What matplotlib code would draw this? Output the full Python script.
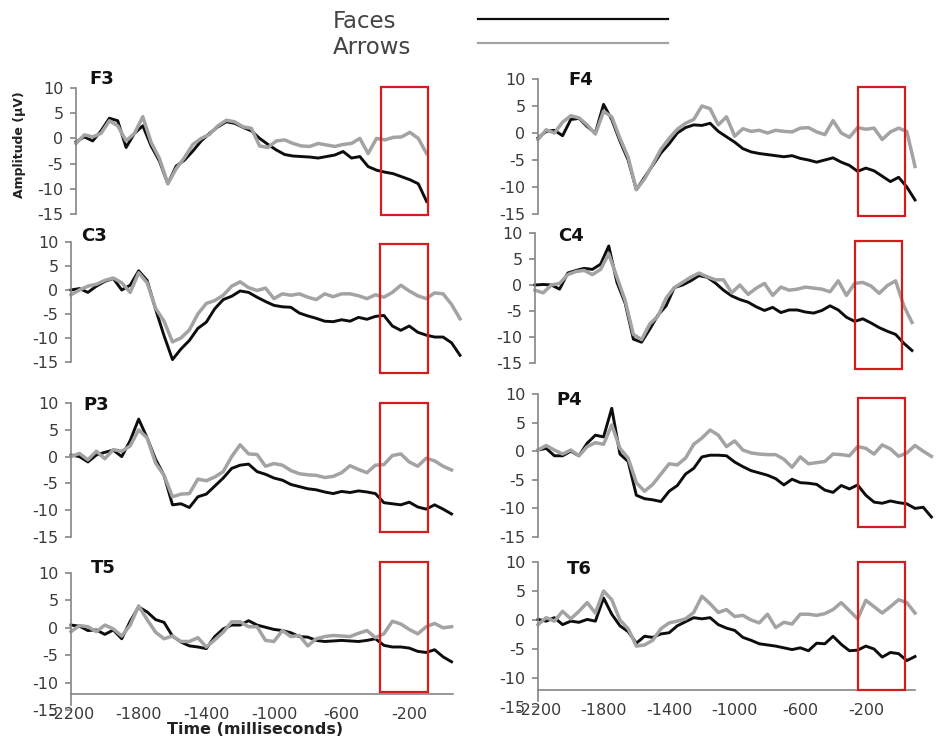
import numpy as np
import matplotlib.pyplot as plt
from matplotlib.patches import Rectangle
from matplotlib.lines import Line2D

plt.rcParams['axes.unicode_minus'] = False
plt.rcParams['font.family'] = ['DejaVu Sans']

# ─── Data: grand-average ERP (µV), sampled every 50 ms from -2200 ms ──────────
time_ms = np.arange(-2200, 201, 50)

f3_faces = [-0.7, 0.3, -0.5, 1.5, 4.0, 3.5, -1.8, 1.0, 2.5, -1.5, -4.5, -9.0, -5.5, -4.3, -2.5,
            -0.5, 1.0, 2.3, 3.3, 3.0, 2.2, 1.5, 0.0, -1.2, -2.3, -3.2, -3.5, -3.6, -3.7, -3.9,
            -3.6, -3.3, -2.6, -3.9, -3.6, -5.6, -6.3, -6.7, -7.0, -7.6, -8.2, -9.0, -12.5]
f3_arrows = [-1.0, 0.7, 0.3, 1.0, 3.5, 2.5, -0.5, 1.0, 4.3, -0.8, -4.0, -9.0, -6.0, -3.8, -1.2,
             0.0, 0.8, 2.5, 3.6, 3.3, 2.3, 2.0, -1.5, -1.8, -0.5, -0.3, -1.0, -1.5, -1.6, -1.0,
             -1.3, -1.6, -1.2, -1.0, 0.0, -3.0, 0.0, -0.3, 0.2, 0.3, 1.2, 0.0, -3.0]

f4_faces = [-0.9, 0.3, 0.5, -0.5, 2.5, 2.7, 1.2, 0.0, 5.3, 2.5, -1.5, -5.0, -10.5, -8.2, -6.0,
            -3.7, -2.0, 0.0, 1.0, 1.5, 1.4, 1.8, 0.3, -0.7, -1.7, -2.9, -3.5, -3.8, -4.0, -4.2,
            -4.4, -4.2, -4.7, -5.0, -5.4, -5.0, -4.6, -5.4, -6.0, -7.1, -6.5, -7.0, -8.0, -9.0,
            -8.2, -10.0, -12.4]
f4_arrows = [-1.2, 0.6, 0.0, 2.0, 3.2, 2.8, 1.5, -0.2, 4.0, 3.0, -1.0, -4.5, -10.5, -8.5, -5.8,
             -3.0, -1.0, 0.7, 1.8, 2.5, 5.0, 4.5, 1.5, 3.0, -0.6, 0.8, 0.3, 0.5, 0.0, 0.5,
             0.3, 0.2, 0.9, 1.0, 0.2, -0.3, 2.3, 0.0, -0.8, 1.0, 0.7, 0.9, -1.2, 0.2, 0.9, 0.3, -6.2]

c3_faces = [0.0, 0.3, -0.5, 0.8, 1.8, 2.4, 0.0, 1.0, 4.0, 2.0, -4.0, -9.5, -14.5, -12.3, -10.5,
            -8.0, -6.7, -3.9, -2.0, -1.3, -0.2, -0.5, -1.5, -2.4, -3.2, -3.5, -3.6, -4.8, -5.4,
            -5.9, -6.5, -6.6, -6.2, -6.5, -5.7, -6.1, -5.5, -5.3, -7.5, -8.4, -7.5, -8.8, -9.4,
            -9.8, -9.8, -11.0, -13.6]
c3_arrows = [-1.0, 0.0, 0.8, 1.2, 2.0, 2.5, 1.5, -0.5, 3.6, 1.5, -3.8, -6.5, -10.8, -10.0, -8.3,
             -5.0, -2.8, -2.2, -1.1, 0.8, 1.7, 0.5, -0.1, 0.4, -1.8, -0.8, -1.1, -0.8, -1.5, -2.0,
             -0.8, -1.4, -0.8, -0.8, -1.2, -1.8, -1.0, -1.5, -0.5, 1.0, -0.2, -1.2, -1.8, -0.6,
             -0.8, -3.0, -6.0]

c4_faces = [0.0, 0.1, 0.0, -0.8, 2.3, 2.8, 3.2, 3.0, 4.0, 7.5, 0.5, -3.5, -10.4, -11.0, -8.5,
            -5.8, -4.0, -0.5, 0.0, 0.8, 1.8, 1.5, 0.4, -1.0, -2.1, -2.8, -3.3, -4.2, -4.9, -4.3,
            -5.3, -4.8, -4.8, -5.2, -5.4, -4.9, -4.0, -4.8, -6.2, -7.0, -6.5, -7.3, -8.2, -8.9,
            -9.5, -11.2, -12.6]
c4_arrows = [-1.0, -1.5, 0.0, 0.3, 2.0, 2.6, 2.8, 2.0, 3.0, 6.0, 1.5, -3.0, -9.5, -10.5, -7.5,
             -6.0, -2.5, -0.5, 0.5, 1.5, 2.3, 1.6, 1.0, 1.0, -1.5, 0.0, -1.8, -0.6, 0.3, -2.0,
             -0.4, -1.0, -0.8, -0.4, -0.6, -0.8, -1.3, 0.8, -2.0, 0.3, 0.5, -0.2, -1.6, -0.1,
             0.8, -4.0, -7.2]

p3_faces = [0.3, 0.0, -1.0, 0.3, 0.8, 1.2, 0.0, 3.0, 7.0, 3.5, -0.5, -3.5, -9.0, -8.8, -9.5,
            -7.5, -7.0, -5.5, -4.0, -2.2, -1.6, -1.4, -2.8, -3.3, -4.0, -4.4, -5.2, -5.6, -6.0,
            -6.2, -6.6, -6.9, -6.5, -6.7, -6.4, -6.6, -6.9, -8.6, -8.8, -9.0, -8.5, -9.4, -9.8,
            -9.0, -9.8, -10.7]
p3_arrows = [0.0, 0.6, -0.6, 1.0, -0.4, 1.3, 1.0, 2.0, 5.0, 3.5, -1.2, -3.5, -7.5, -7.0, -6.9,
             -4.2, -4.5, -3.8, -2.8, 0.0, 2.2, 0.5, 0.4, -1.8, -1.3, -1.6, -2.6, -3.2, -3.4,
             -3.5, -3.9, -3.7, -3.0, -1.7, -2.4, -3.0, -1.6, -1.5, 0.2, 0.5, -1.0, -1.8, -0.3,
             -0.8, -1.8, -2.5]

p4_faces = [0.2, 0.5, -0.8, -0.8, 0.0, -0.8, 1.4, 2.8, 2.5, 7.5, -0.5, -1.8, -7.7, -8.3, -8.5,
            -8.8, -7.0, -6.0, -4.0, -3.0, -1.0, -0.7, -0.7, -0.8, -1.9, -2.7, -3.4, -3.8, -4.2,
            -4.8, -5.9, -4.9, -5.5, -5.6, -5.8, -6.8, -7.2, -6.0, -6.6, -5.9, -7.7, -8.9, -9.1,
            -8.7, -9.0, -9.2, -10.0, -9.8, -11.5]
p4_arrows = [0.2, 1.0, 0.2, -0.5, 0.2, -0.8, 0.8, 1.5, 1.2, 4.6, 0.5, -1.2, -5.5, -7.0, -5.8,
             -4.0, -2.2, -2.4, -1.2, 1.2, 2.3, 3.7, 2.8, 0.8, 1.8, 0.2, -0.3, -0.5, -0.6, -0.6,
             -1.4, -2.8, -1.0, -2.2, -2.0, -1.8, -0.5, -0.6, -0.8, 0.8, 0.5, -0.5, 1.1, 0.4,
             -0.9, -0.3, 1.0, 0.0, -0.9]

t5_faces = [0.5, 0.3, -0.5, -0.4, -1.2, -0.4, -2.0, 1.2, 3.8, 2.9, 1.5, 1.0, -1.5, -2.6, -3.3,
            -3.5, -3.8, -1.6, -0.2, 0.5, 0.5, 1.3, 0.5, 0.1, -0.3, -0.5, -0.9, -1.6, -1.7, -2.3,
            -2.5, -2.4, -2.3, -2.4, -2.5, -2.3, -2.0, -3.2, -3.5, -3.5, -3.7, -4.3, -4.5, -4.0,
            -5.3, -6.2]
t5_arrows = [-0.7, 0.4, 0.2, -0.7, 0.5, -0.2, -1.5, 0.5, 4.0, 1.5, -0.8, -2.0, -1.5, -2.5, -2.5,
             -1.8, -3.5, -2.2, -0.8, 1.1, 1.1, 0.2, 0.2, -2.3, -2.5, -0.5, -1.6, -1.4, -3.3, -2.0,
             -1.6, -1.4, -1.5, -1.6, -1.0, -0.5, -1.8, -1.1, 1.2, 0.7, -0.3, -1.1, 0.2, 0.8,
             0.0, 0.2]

t6_faces = [0.1, -0.2, 0.4, -0.8, -0.2, -0.4, 0.1, -0.2, 3.8, 1.0, -1.0, -2.0, -4.0, -2.8, -3.0,
            -2.4, -2.2, -1.0, -0.3, 0.4, 0.2, 0.4, -0.8, -1.4, -1.8, -3.0, -3.5, -4.1, -4.3,
            -4.5, -4.8, -5.1, -4.8, -5.3, -4.0, -4.1, -2.8, -4.2, -5.3, -5.2, -4.5, -5.0, -6.4,
            -5.6, -5.8, -7.0, -6.3]
t6_arrows = [-0.8, 0.4, -0.2, 1.5, 0.2, 1.5, 3.0, 1.2, 5.0, 3.5, 0.0, -1.5, -4.5, -4.3, -3.5,
             -1.5, -0.5, -0.2, 0.2, 1.3, 4.1, 2.8, 1.3, 1.8, 0.6, 0.8, 0.0, -0.5, 1.0, -1.3,
             -0.4, -0.7, 1.0, 1.0, 0.8, 1.1, 1.8, 3.0, 1.6, 0.2, 3.4, 2.3, 1.2, 2.3, 3.5, 3.0, 1.2]

xtick_vals = [-2200, -1800, -1400, -1000, -600, -200]
ytick_vals = [-15, -10, -5, 0, 5, 10]

series = {
    'F3': (f3_faces, f3_arrows), 'F4': (f4_faces, f4_arrows),
    'C3': (c3_faces, c3_arrows), 'C4': (c4_faces, c4_arrows),
    'P3': (p3_faces, p3_arrows), 'P4': (p4_faces, p4_arrows),
    'T5': (t5_faces, t5_arrows), 'T6': (t6_faces, t6_arrows),
}

# ─── Layout (pixels in a 936x738 canvas) ──────────────────────────────────────
W, H = 936, 738
# left, right, y of +10, y of -15, title x, title y, box bottom/top (µV)
layout = {
    'F3': (76, 460, 88, 214, 102, 79, -15.2, 10.2),
    'C3': (71, 460, 242, 362, 94, 236, -17.3, 9.6),
    'P3': (71, 460, 403, 537, 96, 405, -14.1, 10.0),
    'T5': (71, 460, 573, 710, 103, 568, -11.7, 12.0),
    'F4': (538, 915, 79, 214, 581, 80, -15.4, 8.5),
    'C4': (535, 912, 233, 363, 571, 236, -16.2, 8.5),
    'P4': (538, 915, 394, 537, 569, 400, -13.2, 9.3),
    'T6': (538, 915, 562, 707, 579, 569, -12.0, 10.0),
}
box_x = {'left': (-373, -89), 'right': (-248, 39)}
XLIM = (-2200, 100)

FACE_COL, ARROW_COL = '#0d0d0d', '#a3a3a3'
AXIS_COL, TXT_COL = '#858585', '#3a3a3a'

fig = plt.figure(figsize=(W / 100, H / 100), dpi=100)

for name, (l, r, t, b, tx, ty, by0, by1) in layout.items():
    ax = fig.add_axes([l / W, 1 - b / H, (r - l) / W, (b - t) / H])
    ax.set_xlim(*XLIM)
    ax.set_ylim(-15, 10)
    ax.patch.set_alpha(0)
    faces, arrows = series[name]
    ax.plot(time_ms[:len(faces)], faces, color=FACE_COL, lw=2.1, clip_on=False,
            solid_joinstyle='round')
    ax.plot(time_ms[:len(arrows)], arrows, color=ARROW_COL, lw=2.5, clip_on=False,
            solid_joinstyle='round')

    for s in ['top', 'right']:
        ax.spines[s].set_visible(False)
    ax.spines['left'].set_color(AXIS_COL)
    ax.spines['left'].set_linewidth(1.2)
    ax.set_yticks(ytick_vals)
    ax.tick_params(axis='y', colors=AXIS_COL, labelcolor=TXT_COL, labelsize=11.5,
                   length=4, width=1.2, pad=5)

    bottom_row = name in ('T5', 'T6')
    if bottom_row:
        ax.spines['bottom'].set_position(('data', -12))
        ax.spines['bottom'].set_color(AXIS_COL)
        ax.spines['bottom'].set_linewidth(1.2)
        ax.spines['bottom'].set_bounds(-2200, 60 if name == 'T5' else 100)
        ax.spines['left'].set_bounds(-14.0, 10)
        ax.set_xticks(xtick_vals)
        ax.set_xticklabels([str(v) for v in xtick_vals])
        ax.tick_params(axis='x', length=0, pad=10, labelsize=11.5, labelcolor=TXT_COL)
    else:
        ax.spines['bottom'].set_visible(False)
        ax.set_xticks([])

    x0, x1 = box_x['left'] if l < 300 else box_x['right']
    ax.add_patch(Rectangle((x0, by0), x1 - x0, by1 - by0, fill=False,
                           edgecolor='#d41c1c', lw=1.6, clip_on=False, zorder=5))

    fig.text(tx / W, 1 - ty / H, name, ha='center', va='center',
             fontsize=13, fontweight='bold', color='#111111')

# axis titles
fig.text(20 / W, 1 - 145 / H, 'Amplitude (µV)', rotation=90, ha='center', va='center',
         fontsize=9, fontweight='bold', color='#222222')
fig.text(255 / W, 1 - 729 / H, 'Time (milliseconds)', ha='center', va='center',
         fontsize=11.5, fontweight='bold', color='#222222')

# legend drawn at the top
fig.text(333 / W, 1 - 22 / H, 'Faces', ha='left', va='center', fontsize=16.5,
         color='#444444')
fig.text(333 / W, 1 - 47 / H, 'Arrows', ha='left', va='center', fontsize=16.5,
         color='#444444')
fig.add_artist(Line2D([478 / W, 668 / W], [1 - 19 / H, 1 - 19 / H], color=FACE_COL,
                      lw=1.6, transform=fig.transFigure))
fig.add_artist(Line2D([478 / W, 668 / W], [1 - 43 / H, 1 - 43 / H], color=ARROW_COL,
                      lw=1.6, transform=fig.transFigure))

fig.savefig('out.png', dpi=100)
